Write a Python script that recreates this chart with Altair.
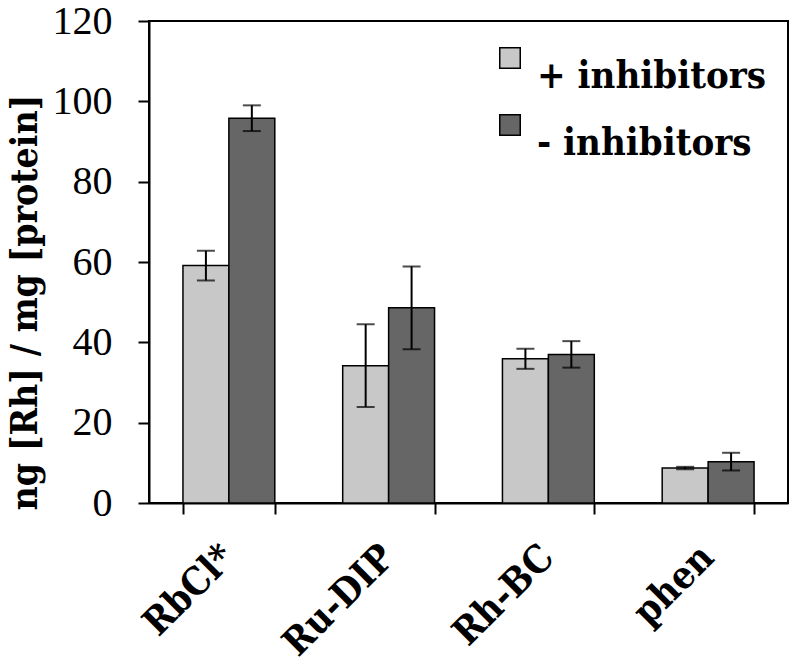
import altair as alt
import pandas as pd

categories = ["RbCl*", "Ru-DIP", "Rh-BC", "phen"]
series = ["+ inhibitors", "- inhibitors"]
plus_vals = [59.1, 34.2, 35.9, 8.7]
plus_err = [3.7, 10.3, 2.5, 0.3]
minus_vals = [95.8, 48.6, 37.0, 10.3]
minus_err = [3.2, 10.3, 3.3, 2.2]
colors = ["#c8c8c8", "#666666"]

rows = []
for c, v, e in zip(categories, plus_vals, plus_err):
    rows.append({"cat": c, "series": series[0], "value": v, "lo": v - e, "hi": v + e})
for c, v, e in zip(categories, minus_vals, minus_err):
    rows.append({"cat": c, "series": series[1], "value": v, "lo": v - e, "hi": v + e})
df = pd.DataFrame(rows)

FONT = "Liberation Serif"
BOLD_FONT = "DejaVu Serif Condensed"

x_enc = alt.X(
    "cat:N",
    sort=categories,
    title=None,
    scale=alt.Scale(paddingInner=0.425, paddingOuter=0.2125),
    axis=alt.Axis(
        labelAngle=-45,
        labelAlign="right",
        labelBaseline="top",
        labelFont=BOLD_FONT,
        labelFontSize=38,
        labelFontWeight="bold",
        labelColor="black",
        labelPadding=24,
        labelOffset=-14,
        tickBand="extent",
        tickSize=11,
        tickWidth=2,
        tickColor="black",
        domainColor="black",
        domainWidth=2,
        grid=False,
    ),
)
xoff_enc = alt.XOffset("series:N", sort=series, scale=alt.Scale(paddingInner=0, paddingOuter=0))

y_scale = alt.Scale(domain=[0, 120], nice=False)
y_axis = alt.Axis(
    values=[0, 20, 40, 60, 80, 100, 120],
    labelFont=FONT,
    labelFontSize=40,
    labelColor="black",
    labelPadding=26,
    tickSize=11,
    tickWidth=2,
    tickColor="black",
    domainColor="black",
    domainWidth=2,
    grid=False,
    title="ng [Rh] / mg [protein]",
    titleFont=BOLD_FONT,
    titleFontSize=37,
    titleFontWeight="bold",
    titleColor="black",
    titleAngle=-90,
    titleX=-124,
    titleY=281,
    titleAlign="center",
    titleBaseline="middle",
)

base = alt.Chart(df).encode(x=x_enc, xOffset=xoff_enc)

bars = base.mark_bar(stroke="black", strokeWidth=1.5).encode(
    y=alt.Y("value:Q", scale=y_scale, axis=y_axis),
    color=alt.Color(
        "series:N",
        sort=series,
        scale=alt.Scale(domain=series, range=colors),
        legend=alt.Legend(
            title=None,
            orient="none",
            legendX=342,
            legendY=18,
            symbolType="square",
            symbolSize=420,
            symbolStrokeColor="black",
            symbolStrokeWidth=1.5,
            labelFont=BOLD_FONT,
            labelFontSize=38,
            labelFontWeight="bold",
            labelColor="black",
            labelBaseline="top",
            labelOffset=8,
            rowPadding=10,
            labelLimit=400,
        ),
    ),
)

rules = base.mark_rule(color="black", strokeWidth=2).encode(
    y=alt.Y("lo:Q", scale=y_scale, axis=y_axis),
    y2="hi:Q",
)
caps_hi = base.mark_tick(color="black", thickness=2, size=18).encode(
    y=alt.Y("hi:Q", scale=y_scale, axis=y_axis)
)
caps_lo = base.mark_tick(color="black", thickness=2, size=18).encode(
    y=alt.Y("lo:Q", scale=y_scale, axis=y_axis)
)

chart = (
    alt.layer(bars, rules, caps_hi, caps_lo)
    .properties(
        width=639,
        height=482,
        autosize=alt.AutoSizeParams(type="none"),
        padding={"left": 141, "top": 13, "right": 4, "bottom": 161},
        background="white",
    )
    .configure_view(stroke="black", strokeWidth=2)
)

chart.save("out.html", embed_options={"renderer": "svg", "actions": False})
